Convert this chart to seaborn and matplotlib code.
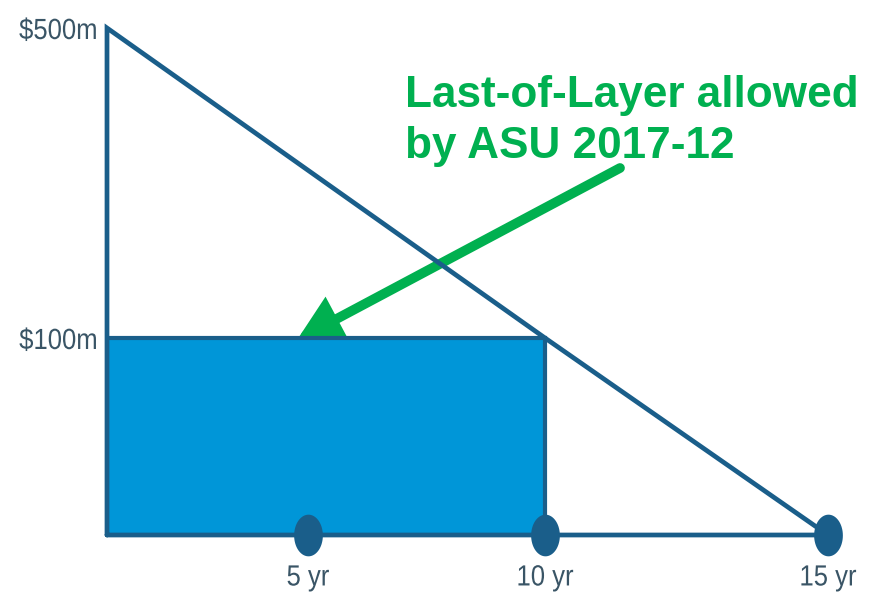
import numpy as np
import pandas as pd
import matplotlib
matplotlib.use("Agg")
import matplotlib.pyplot as plt
from matplotlib.path import Path
from matplotlib.markers import MarkerStyle
from matplotlib.patheffects import AbstractPathEffect
from matplotlib.transforms import Affine2D
import seaborn as sns

# ---- data ----
years = [0, 5, 10, 15]                 # x positions (years)
tick_years = [5, 10, 15]
tick_year_labels = ["5 yr", "10 yr", "15 yr"]
amounts = [0, 100, 500]                # $m
tick_amounts = [100, 500]
tick_amount_labels = ["$100m", "$500m"]
# triangle outline: (years, $m)
tri_x = [0, 0, 10, 15, 0]
tri_y = [0, 500, 100, 0, 0]
# last-of-layer rectangle
layer_x = [0, 10]
layer_top = [100, 100]
layer_edge_x = [0, 10, 10]
layer_edge_y = [100, 100, 0]
annotation_lines = ["Last-of-Layer allowed", "by ASU 2017-12"]


class HScale(AbstractPathEffect):
    """Horizontally condense text around a fixed display x."""
    def __init__(self, cx, sx):
        super().__init__()
        self.cx, self.sx = cx, sx

    def draw_path(self, renderer, gc, tpath, affine, rgbFace=None):
        aff = affine + Affine2D().translate(-self.cx, 0).scale(self.sx, 1).translate(self.cx, 0)
        renderer.draw_path(gc, tpath, aff, rgbFace)


# ---- style ----
sns.set_style("white")
label_font = ["Liberation Sans", "DejaVu Sans"]
bold_font = ["Liberation Sans", "DejaVu Sans"]
LINE = "#1a5e8a"
FILL = "#0096d8"
GREEN = "#00b050"
TXT = "#3a5566"

W, H = 875, 605
fig = plt.figure(figsize=(W / 100, H / 100), dpi=100)
x0px, x1px = 107, 828
y0px, y1px = 535, 28
ax = fig.add_axes([x0px / W, (H - y0px) / H, (x1px - x0px) / W, (y0px - y1px) / H])

# schematic (piecewise-linear) scales
xs_d = [-100, 0, 5, 10, 15, 100]
xs_p = [-100 * 201 / 5, 0, 201, 438, 721, 721 + 85 * 283 / 5]
ys_d = [-1000, 0, 100, 500, 5000]
ys_p = [-1970, 0, 197, 507, 507 + 4500 * 310 / 400]
fx = lambda v: np.interp(v, xs_d, xs_p)
ax.set_xscale("function", functions=(fx, lambda v: np.interp(v, xs_p, xs_d)))
ax.set_yscale("function", functions=(lambda v: np.interp(v, ys_d, ys_p),
                                     lambda v: np.interp(v, ys_p, ys_d)))

ax.fill_between(layer_x, [0, 0], layer_top, color=FILL, lw=0, zorder=2)
sns.lineplot(x=layer_edge_x, y=layer_edge_y, sort=False, estimator=None,
             color=LINE, lw=3.0, ax=ax, zorder=3)
sns.lineplot(x=tri_x, y=tri_y, sort=False, estimator=None,
             color=LINE, lw=3.4, ax=ax, zorder=4)
for l in ax.lines:
    l.set_clip_on(False)
    l.set_solid_capstyle("round")
    l.set_solid_joinstyle("miter")

theta = np.linspace(0, 2 * np.pi, 60)
ell = Path(np.column_stack([np.cos(theta), 1.45 * np.sin(theta)]), closed=True)
dots = pd.DataFrame({"x": tick_years, "y": [0, 0, 0]})
sns.scatterplot(data=dots, x="x", y="y", marker=MarkerStyle(ell), s=30 ** 2,
                color=LINE, edgecolor=LINE, linewidth=0, ax=ax, zorder=5,
                clip_on=False)

ax.set_xlim(0, 15)
ax.set_ylim(0, 500)
for s in ax.spines.values():
    s.set_visible(False)
ax.set_xticks(tick_years)
xl = ax.set_xticklabels(tick_year_labels, fontfamily=label_font, fontsize=21, color=TXT)
ax.set_yticks(tick_amounts)
yl = ax.set_yticklabels(tick_amount_labels, fontfamily=label_font, fontsize=21, color=TXT)
ax.tick_params(axis="x", length=0, pad=20.5)
ax.tick_params(axis="y", length=0, pad=7)
sx = 0.88
for t, yr in zip(xl, tick_years):
    cx = x0px + fx(yr) * (x1px - x0px) / 721
    t.set_path_effects([HScale(cx, sx)])
ycx = x0px - 7 * 100 / 72
for t in yl:
    t.set_path_effects([HScale(ycx, sx)])
ax.set_xlabel("")
ax.set_ylabel("")
ax.grid(False)

# green annotation
fig.text(405 / W, (H - 107) / H, annotation_lines[0], fontfamily=bold_font,
         fontweight="bold", fontsize=31.8, color=GREEN, va="baseline", ha="left")
fig.text(405 / W, (H - 158) / H, annotation_lines[1], fontfamily=bold_font,
         fontweight="bold", fontsize=31.8, color=GREEN, va="baseline", ha="left")
arr = ax.annotate("", xy=(297, H - 340), xycoords="figure pixels",
                  xytext=(620, H - 168), textcoords="figure pixels",
                  arrowprops=dict(arrowstyle="-|>,head_length=1.1,head_width=0.6",
                                  mutation_scale=20, lw=7, color=GREEN,
                                  shrinkA=0, shrinkB=0, joinstyle="miter"))
arr.set_zorder(1)

fig.savefig("out.png", dpi=100)
